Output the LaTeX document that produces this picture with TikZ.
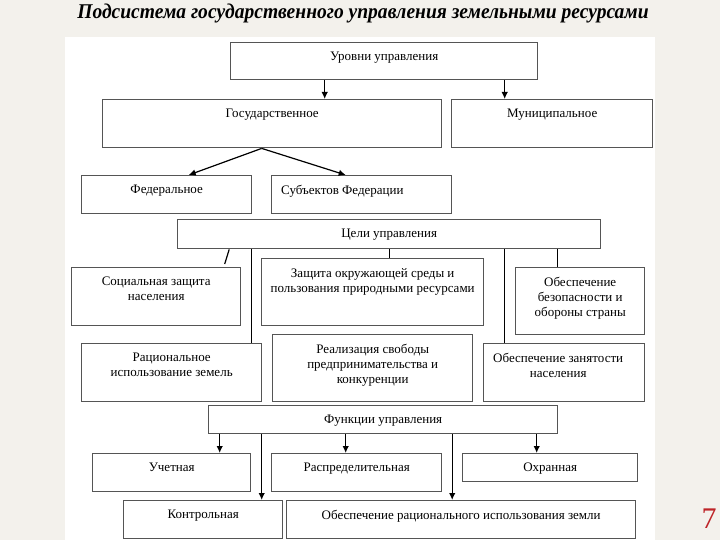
\documentclass[tikz,border=0pt]{standalone}
\usepackage{fontspec}
\setmainfont{Liberation Serif}
\usetikzlibrary{arrows.meta,positioning}
\definecolor{slide}{RGB}{243,241,236}
\definecolor{edge}{RGB}{85,85,85}
\definecolor{pagenum}{RGB}{190,36,40}

\begin{document}
\begin{tikzpicture}[x = 1pt, y = -1pt,
	box/.style = {draw = edge, line width = 1.4pt, fill = white, anchor = north west, inner sep = 0pt},
	txt/.style = {anchor = north, align = center, inner sep = 10pt, font = \fontsize{13}{15}\selectfont},
	link/.style = {line width = 1.2pt, black},
	arr/.style = {link, -{Latex[length = 7pt, width = 6.5pt]}}]
	\useasboundingbox[fill = slide] (0,0) rectangle (720,540);
	\fill[white] (65,37) rectangle (655,540);
	\node[font = \fontsize{21}{23}\selectfont\bfseries\itshape, xscale = 0.93, transform shape, inner sep = 0pt] (title) at (363,13) {Подсистема государственного управления земельными ресурсами};
	% levels
	\node[box, minimum width = 307, minimum height = 37, label = {[txt]north:Уровни управления}] (lvl) at (230,42) {};
	\node[box, minimum width = 339, minimum height = 48, label = {[txt]north:Государственное}] (gos) at (102,99) {};
	\node[box, minimum width = 201, minimum height = 48, label = {[txt]north:Муниципальное}] (mun) at (451,99) {};
	\node[box, minimum width = 170, minimum height = 38, label = {[txt]north:Федеральное}] (fed) at (81,175) {};
	\node[box, minimum width = 180, minimum height = 38, label = {[txt, anchor = north west]north west:Субъектов Федерации}] (sub) at (271,175) {};
	\coordinate (lg) at ([xshift = -59.5]lvl.south);
	\coordinate (lm) at ([xshift = 120.5]lvl.south);
	\coordinate (gs) at ([xshift = -10.5]gos.south);
	\draw[arr] (lg) -- (lg |- gos.north);
	\draw[arr] (lm) -- (lm |- mun.north);
	\draw[arr] (gs) -- ([xshift = 22]fed.north);
	\draw[arr] (gs) -- ([xshift = -16]sub.north);
	% goals
	\node[box, minimum width = 423, minimum height = 29, label = {[txt]north:Цели управления}] (goal) at (177,219) {};
	\node[box, minimum width = 169, minimum height = 58, label = {[txt]north:Социальная защита\\населения}] (soc) at (71,267) {};
	\node[box, minimum width = 222, minimum height = 67, label = {[txt]north:Защита окружающей среды и\\пользования природными ресурсами}] (eco) at (261,258) {};
	\node[box, minimum width = 129, minimum height = 67, label = {[txt]north:Обеспечение\\безопасности и\\обороны страны}] (def) at (515,267) {};
	\node[box, minimum width = 180, minimum height = 58, label = {[txt]north:Рациональное\\использование земель}] (land) at (81,343) {};
	\node[box, minimum width = 200, minimum height = 67, label = {[txt]north:Реализация свободы\\предпринимательства и\\конкуренции}] (biz) at (272,334) {};
	\node[box, minimum width = 161, minimum height = 58, label = {[txt, xshift = -6]north:Обеспечение занятости\\населения}] (job) at (483,343) {};
	\coordinate (gl) at ([xshift = -138]goal.south);
	\coordinate (gj) at ([xshift = 115.5]goal.south);
	\coordinate (gd) at ([xshift = 168.5]goal.south);
	\draw[link] ([xshift = -160]goal.south) -- ([xshift = 68.5, yshift = 3]soc.north);
	\draw[link] (gl) -- (gl |- land.north);
	\draw[link] (goal.south) -- (goal.south |- eco.north);
	\draw[link] (gj) -- (gj |- job.north);
	\draw[link] (gd) -- (gd |- def.north);
	% functions
	\node[box, minimum width = 349, minimum height = 28, label = {[txt]north:Функции управления}] (func) at (208,405) {};
	\node[box, minimum width = 158, minimum height = 38, label = {[txt]north:Учетная}] (acc) at (92,453) {};
	\node[box, minimum width = 170, minimum height = 38, label = {[txt]north:Распределительная}] (dist) at (271,453) {};
	\node[box, minimum width = 175, minimum height = 28, label = {[txt]north:Охранная}] (prot) at (462,453) {};
	\node[box, minimum width = 159, minimum height = 38, label = {[txt]north:Контрольная}] (ctrl) at (123,500) {};
	\node[box, minimum width = 349, minimum height = 38, label = {[txt]north:Обеспечение рационального использования земли}] (use) at (286,500) {};
	\coordinate (fa) at ([xshift = -163.5]func.south);
	\coordinate (fc) at ([xshift = -121.5]func.south);
	\coordinate (fd) at ([xshift = -37.5]func.south);
	\coordinate (fu) at ([xshift = 69]func.south);
	\coordinate (fp) at ([xshift = 153.5]func.south);
	\draw[arr] (fa) -- (fa |- acc.north);
	\draw[arr] (fc) -- (fc |- ctrl.north);
	\draw[arr] (fd) -- (fd |- dist.north);
	\draw[arr] (fu) -- (fu |- use.north);
	\draw[arr] (fp) -- (fp |- prot.north);
	\node[text = pagenum, font = \fontsize{30}{32}\selectfont] (num) at (709,519) {7};
\end{tikzpicture}
\end{document}
